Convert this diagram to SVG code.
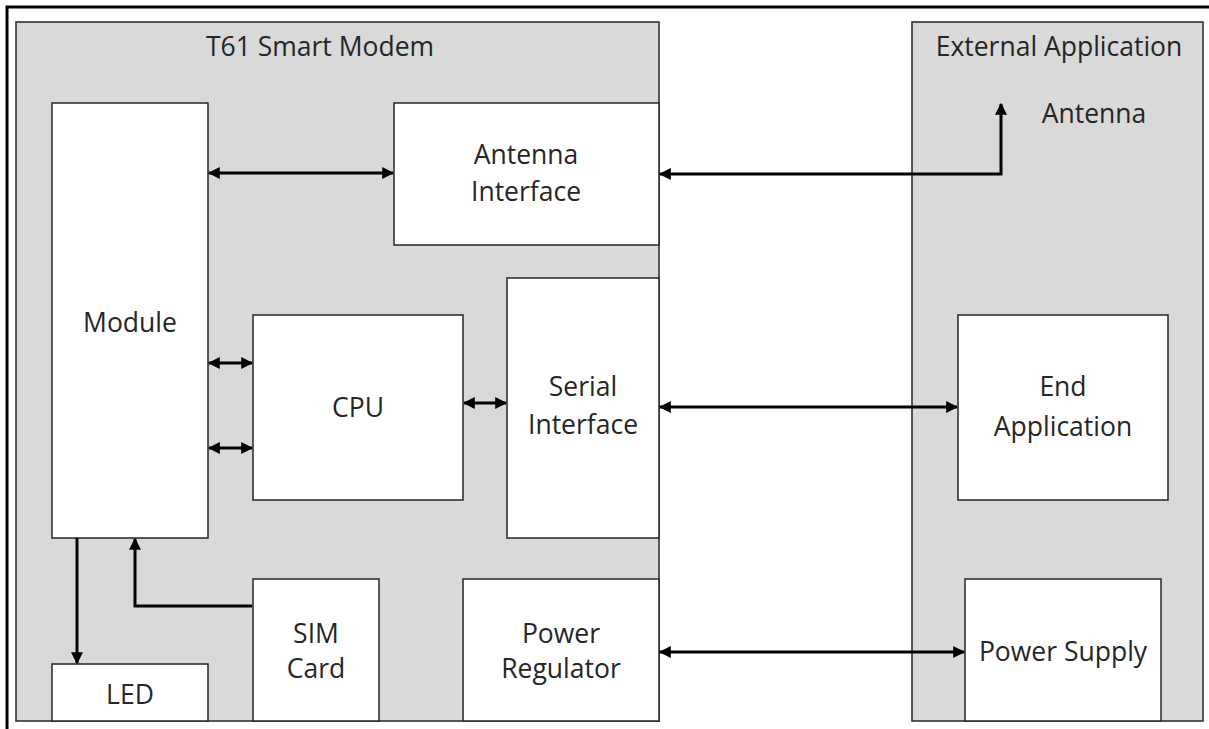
<svg xmlns="http://www.w3.org/2000/svg" width="1209" height="729" viewBox="0 0 1209 729">
<defs>
<style>
.frame{fill:#d9d9d9;stroke:#262626;stroke-width:1.5}
.box{fill:#ffffff;stroke:#262626;stroke-width:1.5}
.lbl{font-family:"Open Sans","Liberation Sans",sans-serif;font-size:26.5px;fill:#262626;text-anchor:middle}
.conn{fill:none;stroke:#000;stroke-width:3}
</style>
<marker id="ah" viewBox="0 0 10 10" refX="9" refY="5" markerWidth="4" markerHeight="4" orient="auto-start-reverse" markerUnits="strokeWidth">
<path d="M0,0 L10,5 L0,10 z" fill="#000"/>
</marker>
</defs>
<rect width="1209" height="729" fill="#ffffff"/>
<path d="M7,729 V7 H1209" fill="none" stroke="#000" stroke-width="3"/>
<g id="t61">
<rect class="frame" x="16" y="22" width="643" height="699"/>
<text class="lbl" x="320" y="56">T61 Smart Modem</text>
</g>
<g id="external">
<rect class="frame" x="912" y="22" width="291" height="699"/>
<text class="lbl" x="1059" y="56">External Application</text>
<text class="lbl" x="1094" y="123">Antenna</text>
</g>
<g id="module">
<rect class="box" x="52" y="103" width="156" height="435"/>
<text class="lbl" x="130" y="332">Module</text>
</g>
<g id="antenna-interface">
<rect class="box" x="394" y="103" width="265" height="142"/>
<text class="lbl" x="526" y="164">Antenna</text>
<text class="lbl" x="526" y="201">Interface</text>
</g>
<g id="cpu">
<rect class="box" x="253" y="315" width="210" height="185"/>
<text class="lbl" x="358" y="417">CPU</text>
</g>
<g id="serial-interface">
<rect class="box" x="507" y="278" width="152" height="260"/>
<text class="lbl" x="583" y="396">Serial</text>
<text class="lbl" x="583" y="434">Interface</text>
</g>
<g id="sim-card">
<rect class="box" x="253" y="579" width="126" height="142"/>
<text class="lbl" x="316" y="643">SIM</text>
<text class="lbl" x="316" y="678">Card</text>
</g>
<g id="power-regulator">
<rect class="box" x="463" y="579" width="196" height="142"/>
<text class="lbl" x="561" y="643">Power</text>
<text class="lbl" x="561" y="678">Regulator</text>
</g>
<g id="led">
<rect class="box" x="52" y="664" width="156" height="57"/>
<text class="lbl" x="130" y="704">LED</text>
</g>
<g id="end-application">
<rect class="box" x="958" y="315" width="210" height="185"/>
<text class="lbl" x="1063" y="396">End</text>
<text class="lbl" x="1063" y="436">Application</text>
</g>
<g id="power-supply">
<rect class="box" x="965" y="579" width="196" height="142"/>
<text class="lbl" x="1063" y="661">Power Supply</text>
</g>
<g id="connectors">
<path class="conn" d="M209,173 H393" marker-start="url(#ah)" marker-end="url(#ah)"/>
<path class="conn" d="M660,174 H1001 V104" marker-start="url(#ah)" marker-end="url(#ah)"/>
<path class="conn" d="M209,363 H252" marker-start="url(#ah)" marker-end="url(#ah)"/>
<path class="conn" d="M209,448 H252" marker-start="url(#ah)" marker-end="url(#ah)"/>
<path class="conn" d="M464,403 H506" marker-start="url(#ah)" marker-end="url(#ah)"/>
<path class="conn" d="M660,407 H957" marker-start="url(#ah)" marker-end="url(#ah)"/>
<path class="conn" d="M660,652 H964" marker-start="url(#ah)" marker-end="url(#ah)"/>
<path class="conn" d="M77,538 V663" marker-end="url(#ah)"/>
<path class="conn" d="M252,606 H135 V539" marker-end="url(#ah)"/>
</g>
</svg>
